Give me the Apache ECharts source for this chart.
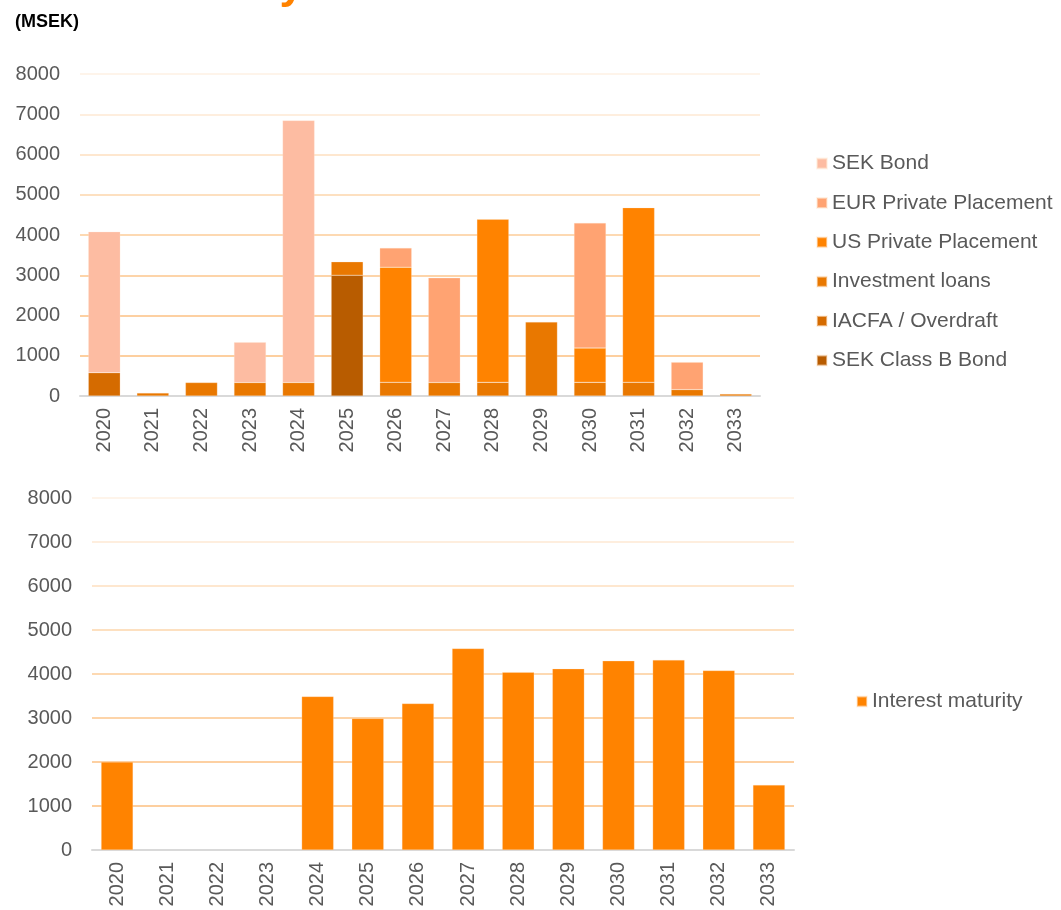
<!DOCTYPE html>
<html>
<head>
<meta charset="utf-8">
<script src="https://cdn.jsdelivr.net/npm/echarts@6/dist/echarts.min.js"></script>
<style>
  html, body { margin: 0; padding: 0; background: #fff; }
  #chart { width: 1061px; height: 910px; }
</style>
</head>
<body>
<div id="chart"></div>
<script>
const years = ['2020','2021','2022','2023','2024','2025','2026','2027','2028','2029','2030','2031','2032','2033'];

// Top chart (capital maturity), MSEK
const sekClassBBond      = [0, 0, 0, 0, 0, 3000, 0, 0, 0, 0, 0, 0, 0, 0];
const iacfaOverdraft     = [580, 0, 0, 0, 0, 0, 0, 0, 0, 0, 0, 0, 0, 0];
const investmentLoans    = [0, 75, 335, 335, 335, 335, 340, 335, 340, 1840, 340, 340, 160, 50];
const usPrivatePlacement = [0, 0, 0, 0, 0, 0, 2860, 0, 4050, 0, 850, 4340, 0, 0];
const eurPrivatePlacement= [0, 0, 0, 0, 0, 0, 480, 2600, 0, 0, 3110, 0, 680, 0];
const sekBond            = [3500, 0, 0, 1000, 6510, 0, 0, 0, 0, 0, 0, 0, 0, 0];

// Bottom chart (interest maturity), MSEK
const interestMaturity   = [2000, 0, 0, 0, 3490, 2990, 3330, 4580, 4040, 4120, 4300, 4320, 4080, 1480];

const yTicks = [0, 1000, 2000, 3000, 4000, 5000, 6000, 7000, 8000];

const labelColor = '#595959';
const fontFam = '"Liberation Sans", Arial, sans-serif';
const gridColors = ['#d9d9d9', '#fdcf9f', '#fdd0a2', '#fdd4a9', '#fdd9b2', '#fde0c0', '#fee7cf', '#feeede', '#fef4ea'];

const chart = echarts.init(document.getElementById('chart'), null, { renderer: 'canvas' });

function mkX(gridIndex) {
  return {
    type: 'category', gridIndex, data: years,
    axisLine: { show: true, lineStyle: { color: '#d9d9d9', width: 2 } },
    axisTick: { show: false },
    axisLabel: { rotate: 90, fontSize: 20, color: labelColor, fontFamily: fontFam, margin: 12 }
  };
}
function mkY(gridIndex) {
  return {
    type: 'value', gridIndex, min: yTicks[0], max: yTicks[yTicks.length - 1], interval: yTicks[1] - yTicks[0],
    axisLine: { show: false }, axisTick: { show: false },
    axisLabel: { fontSize: 20, color: labelColor, fontFamily: fontFam, margin: 20, formatter: v => String(v) },
    splitLine: { show: true, lineStyle: { color: gridColors, width: 2 } }
  };
}

const nz = arr => arr.map(v => (v === 0 ? '-' : v));
const barBorder = { borderColor: 'rgba(255,235,215,0.5)', borderWidth: 0.5 };
function topSeries(name, data, color) {
  return {
    name, type: 'bar', stack: 'cap', xAxisIndex: 0, yAxisIndex: 0, data: nz(data),
    barWidth: 32, itemStyle: Object.assign({ color }, barBorder)
  };
}

const option = {
  backgroundColor: '#ffffff',
  animation: false,
  textStyle: { fontFamily: fontFam },
  graphic: [
    { type: 'text', left: 15, top: 13,
      style: { text: '(MSEK)', fontSize: 18, fontWeight: 'bold', fill: '#000', fontFamily: fontFam } },
    { type: 'text', x: 304, y: 8,
      style: { text: 'Maturity', fontSize: 44, fontWeight: 'bold', fill: '#ff8200', fontFamily: fontFam,
               align: 'right', verticalAlign: 'bottom' } }
  ],
  grid: [
    { left: 80, right: 301, top: 74, height: 322 },
    { left: 92, right: 267, top: 498, height: 352 }
  ],
  legend: [
    { orient: 'vertical', left: 811, top: 148, itemGap: 18.4, itemWidth: 10, itemHeight: 10, icon: 'rect',
      textStyle: { fontSize: 21, color: labelColor, fontFamily: fontFam, lineHeight: 20 },
      data: ['SEK Bond', 'EUR Private Placement', 'US Private Placement', 'Investment loans', 'IACFA / Overdraft', 'SEK Class B Bond'] },
    { orient: 'vertical', left: 851, top: 686, itemWidth: 10, itemHeight: 10, icon: 'rect',
      textStyle: { fontSize: 21, color: labelColor, fontFamily: fontFam, lineHeight: 20 },
      data: ['Interest maturity'] }
  ],
  xAxis: [mkX(0), mkX(1)],
  yAxis: [mkY(0), mkY(1)],
  series: [
    topSeries('SEK Class B Bond', sekClassBBond, '#b85c00'),
    topSeries('IACFA / Overdraft', iacfaOverdraft, '#d56b00'),
    topSeries('Investment loans', investmentLoans, '#e97800'),
    topSeries('US Private Placement', usPrivatePlacement, '#ff8300'),
    topSeries('EUR Private Placement', eurPrivatePlacement, '#ffa372'),
    topSeries('SEK Bond', sekBond, '#fdbca2'),
    { name: 'Interest maturity', type: 'bar', xAxisIndex: 1, yAxisIndex: 1, data: nz(interestMaturity),
      barWidth: 32, itemStyle: Object.assign({ color: '#ff8300' }, barBorder) }
  ]
};
chart.setOption(option);
</script>
</body>
</html>
